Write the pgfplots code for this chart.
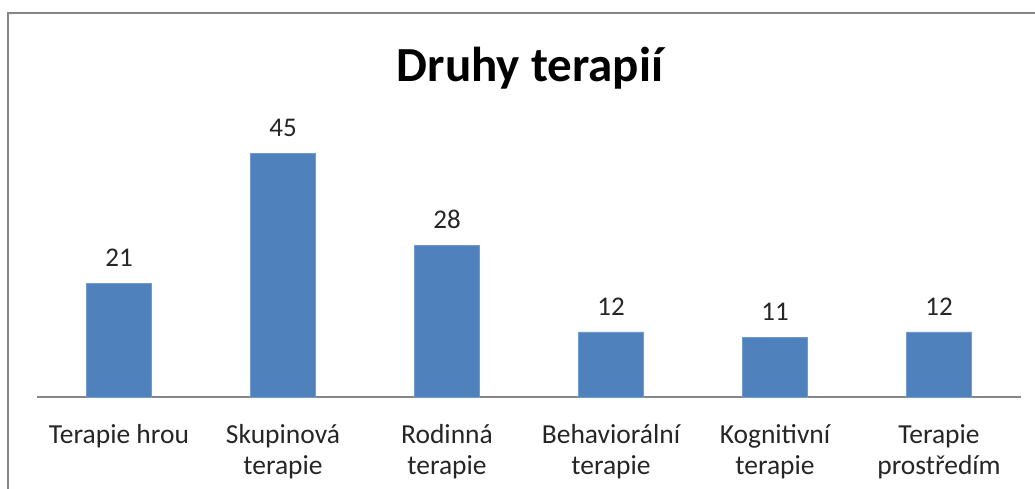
\documentclass[border=0pt]{standalone}
\usepackage{pgfplots}
\pgfplotsset{compat=1.18}
\usepackage{fontspec}
\setmainfont{Carlito}
\definecolor{barblue}{HTML}{4F81BD}
\definecolor{axgray}{HTML}{868686}
\begin{document}
\begin{tikzpicture}[x=1pt,y=1pt]
\clip (0,0) rectangle (1035,489);
\fill[white] (0,0) rectangle (1035,489);
\draw[axgray,line width=2.5pt] (8,-20) -- (8,476) -- (1060,476);
\node[font=\fontsize{49}{54}\selectfont\bfseries] at (530,421) {Druhy terapií};
\begin{axis}[
  at={(37pt,92pt)}, anchor=south west,
  scale only axis, width=984pt, height=271pt,
  xmin=-0.5, xmax=5.5, ymin=0, ymax=50,
  axis x line*=bottom, axis y line=none,
  x axis line style={axgray,line width=2pt,-},
  xtick=data, major tick length=0pt,
  xticklabels={{Terapie hrou},{Skupinová\\terapie},{Rodinná\\terapie},{Behaviorální\\terapie},{Kognitivní\\terapie},{Terapie\\prostředím}},
  xticklabel style={align=center,font=\fontsize{27.5}{31}\selectfont,text=black!85,inner sep=0pt,yshift=-27pt},
  ybar, bar width=65pt,
  nodes near coords,
  /pgf/number format/assume math mode=true,
  every node near coord/.append style={font=\fontsize{27}{30}\selectfont,text=black!85,yshift=13pt},
  clip=false,
]
\addplot[fill=barblue,draw=barblue!80!white] coordinates {(0,21) (1,45) (2,28) (3,12) (4,11) (5,12)};
\end{axis}
\end{tikzpicture}
\end{document}
